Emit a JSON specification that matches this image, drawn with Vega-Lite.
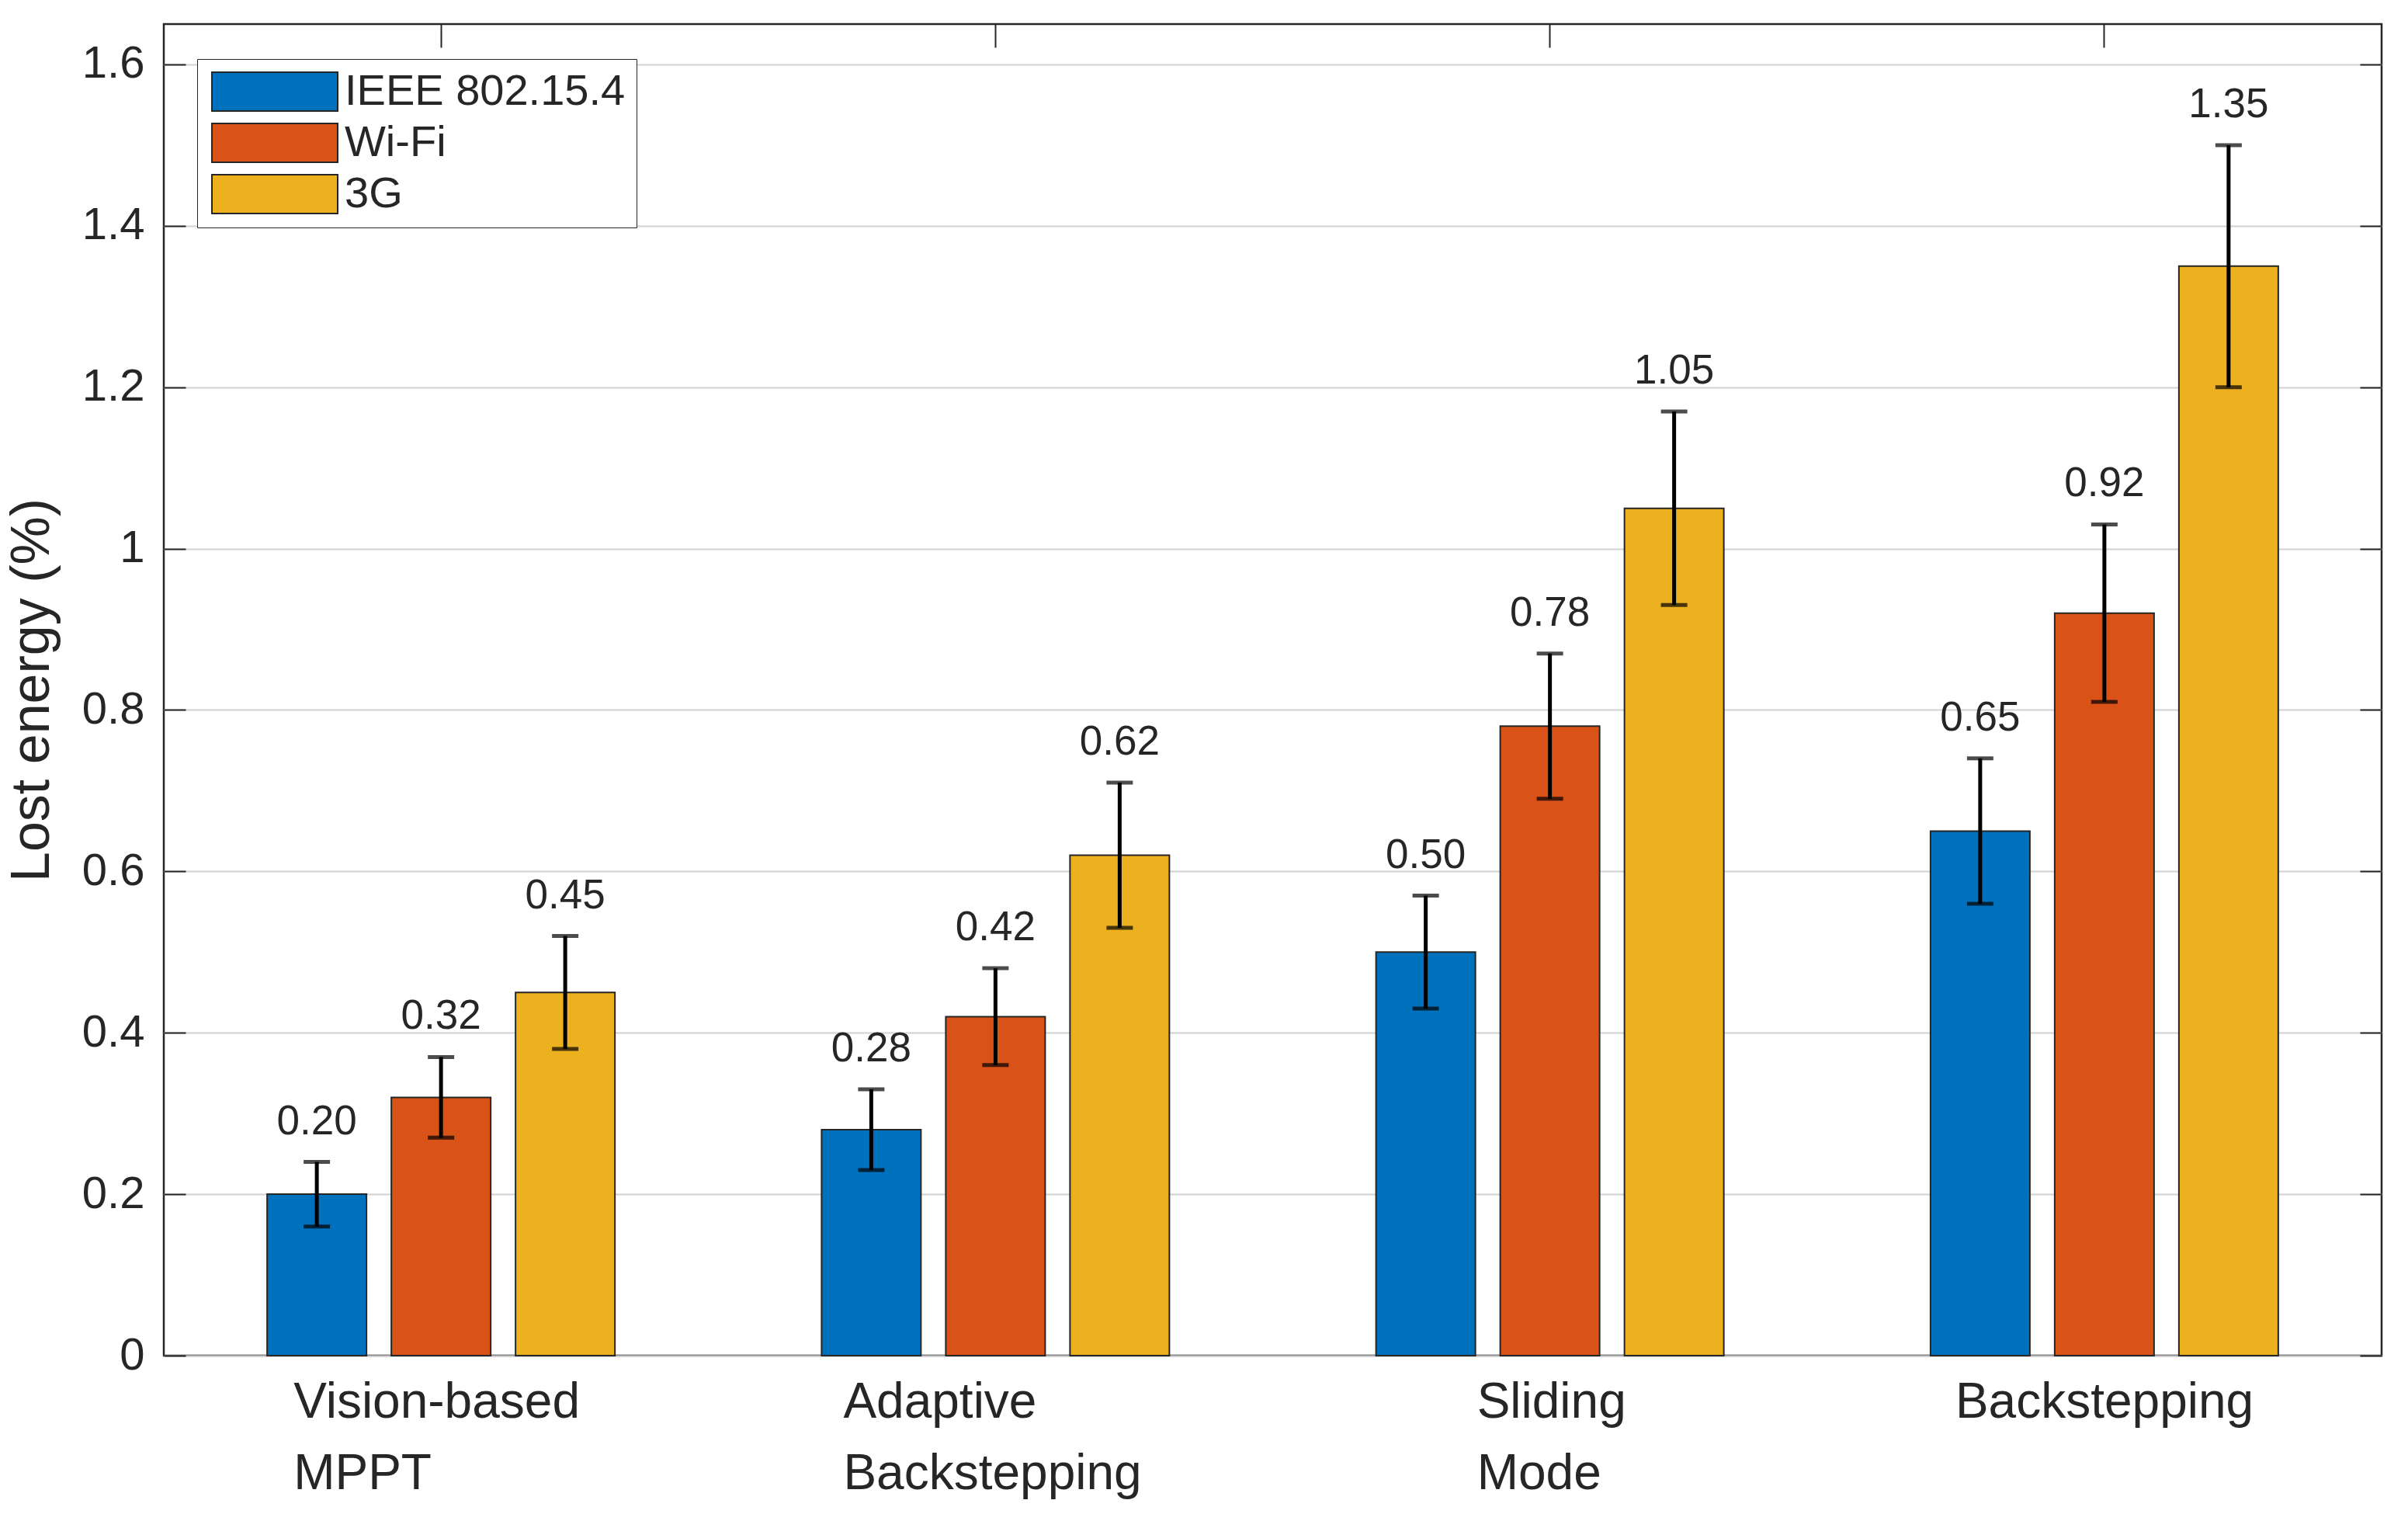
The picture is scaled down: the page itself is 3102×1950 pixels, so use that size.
{
  "$schema": "https://vega.github.io/schema/vega-lite/v6.json",
  "width": 2857,
  "height": 1715,
  "autosize": {"type": "none"},
  "padding": {"left": 211, "top": 31, "right": 34, "bottom": 204},
  "background": "white",
  "config": {
    "font": "Liberation Sans",
    "view": {"stroke": "#262626", "strokeWidth": 2.5},
    "axis": {"domain": false, "labelColor": "#262626", "tickColor": "#262626", "tickWidth": 2, "titleColor": "#262626", "titleFontWeight": "normal", "labelLimit": 0}
  },
  "data": {
    "values": [
      {"method": "Vision-based\nMPPT", "network": "IEEE 802.15.4", "value": 0.20, "low": 0.16, "high": 0.24},
      {"method": "Vision-based\nMPPT", "network": "Wi-Fi", "value": 0.32, "low": 0.27, "high": 0.37},
      {"method": "Vision-based\nMPPT", "network": "3G", "value": 0.45, "low": 0.38, "high": 0.52},
      {"method": "Adaptive\nBackstepping", "network": "IEEE 802.15.4", "value": 0.28, "low": 0.23, "high": 0.33},
      {"method": "Adaptive\nBackstepping", "network": "Wi-Fi", "value": 0.42, "low": 0.36, "high": 0.48},
      {"method": "Adaptive\nBackstepping", "network": "3G", "value": 0.62, "low": 0.53, "high": 0.71},
      {"method": "Sliding\nMode", "network": "IEEE 802.15.4", "value": 0.50, "low": 0.43, "high": 0.57},
      {"method": "Sliding\nMode", "network": "Wi-Fi", "value": 0.78, "low": 0.69, "high": 0.87},
      {"method": "Sliding\nMode", "network": "3G", "value": 1.05, "low": 0.93, "high": 1.17},
      {"method": "Backstepping", "network": "IEEE 802.15.4", "value": 0.65, "low": 0.56, "high": 0.74},
      {"method": "Backstepping", "network": "Wi-Fi", "value": 0.92, "low": 0.81, "high": 1.03},
      {"method": "Backstepping", "network": "3G", "value": 1.35, "low": 1.20, "high": 1.50}
    ]
  },
  "layer": [
    {
      "mark": {"type": "bar", "stroke": "#262626", "strokeWidth": 2},
      "encoding": {
        "x": {"field": "method", "type": "nominal", "sort": null, "scale": {"paddingInner": 0, "paddingOuter": 0},
          "axis": {"orient": "bottom", "title": null, "labelAngle": 0, "labelFontSize": 64, "labelLineHeight": 92, "labelAlign": "left", "labelExpr": "split(datum.value, '\\n')", "tickSize": -30, "labelPadding": 58, "grid": false,
            "encoding": {"labels": {"dx": {"value": {"expr": "indexof(datum.value, 'Vision') == 0 ? -190 : indexof(datum.value, 'Adaptive') == 0 ? -196 : indexof(datum.value, 'Sliding') == 0 ? -94 : -192"}}}}}},
        "xOffset": {"field": "network", "type": "nominal", "sort": ["IEEE 802.15.4", "Wi-Fi", "3G"], "scale": {"paddingInner": 0.2, "paddingOuter": 0.832}},
        "y": {"field": "value", "type": "quantitative", "scale": {"domain": [0, 1.65], "nice": false, "zero": true},
          "axis": {"orient": "left", "title": "Lost energy (%)", "titleFontSize": 70, "titlePadding": 28, "values": [0, 0.2, 0.4, 0.6, 0.8, 1, 1.2, 1.4, 1.6], "format": "~g", "labelFontSize": 58, "tickSize": -28, "labelPadding": 53, "grid": true, "gridColor": "#d2d2d2", "gridWidth": 2}},
        "color": {"field": "network", "type": "nominal", "sort": ["IEEE 802.15.4", "Wi-Fi", "3G"],
          "scale": {"domain": ["IEEE 802.15.4", "Wi-Fi", "3G"], "range": ["#0072BD", "#D95319", "#EDB120"]},
          "legend": {"orient": "none", "legendX": 43, "legendY": 45, "title": null, "symbolType": "M-3.24,-1H3.24V1H-3.24Z", "symbolSize": 2500, "symbolStrokeColor": "#262626", "symbolStrokeWidth": 2, "symbolOpacity": 1, "labelFontSize": 56, "labelColor": "#262626", "labelLimit": 0, "strokeColor": "#262626", "fillColor": "white", "padding": 14, "rowPadding": 8, "labelOffset": 62, "symbolOffset": 58}}
      }
    },
    {
      "mark": {"type": "rule", "strokeWidth": 5, "color": "black"},
      "encoding": {
        "x": {"field": "method", "type": "nominal", "sort": null, "axis": {"orient": "top", "title": null, "labels": false, "tickSize": -30, "grid": false}},
        "xOffset": {"field": "network", "type": "nominal", "sort": ["IEEE 802.15.4", "Wi-Fi", "3G"]},
        "y": {"field": "low", "type": "quantitative", "scale": {"domain": [0, 1.65], "nice": false},
          "axis": {"orient": "right", "title": null, "labels": false, "tickSize": -28, "grid": false, "values": [0, 0.2, 0.4, 0.6, 0.8, 1, 1.2, 1.4, 1.6]}},
        "y2": {"field": "high"}
      }
    },
    {
      "mark": {"type": "tick", "orient": "horizontal", "size": 34, "thickness": 5, "color": "black"},
      "encoding": {
        "x": {"field": "method", "type": "nominal", "sort": null, "axis": null},
        "xOffset": {"field": "network", "type": "nominal", "sort": ["IEEE 802.15.4", "Wi-Fi", "3G"]},
        "y": {"field": "low", "type": "quantitative", "scale": {"domain": [0, 1.65], "nice": false}, "axis": null}
      }
    },
    {
      "mark": {"type": "tick", "orient": "horizontal", "size": 34, "thickness": 5, "color": "black"},
      "encoding": {
        "x": {"field": "method", "type": "nominal", "sort": null, "axis": null},
        "xOffset": {"field": "network", "type": "nominal", "sort": ["IEEE 802.15.4", "Wi-Fi", "3G"]},
        "y": {"field": "high", "type": "quantitative", "scale": {"domain": [0, 1.65], "nice": false}, "axis": null}
      }
    },
    {
      "mark": {"type": "text", "dy": -52, "fontSize": 53, "color": "#262626", "baseline": "middle"},
      "encoding": {
        "x": {"field": "method", "type": "nominal", "sort": null, "axis": null},
        "xOffset": {"field": "network", "type": "nominal", "sort": ["IEEE 802.15.4", "Wi-Fi", "3G"]},
        "y": {"field": "high", "type": "quantitative", "scale": {"domain": [0, 1.65], "nice": false}, "axis": null},
        "text": {"field": "value", "type": "quantitative", "format": ".2f"}
      }
    }
  ],
  "resolve": {"axis": {"x": "independent", "y": "independent"}}
}
